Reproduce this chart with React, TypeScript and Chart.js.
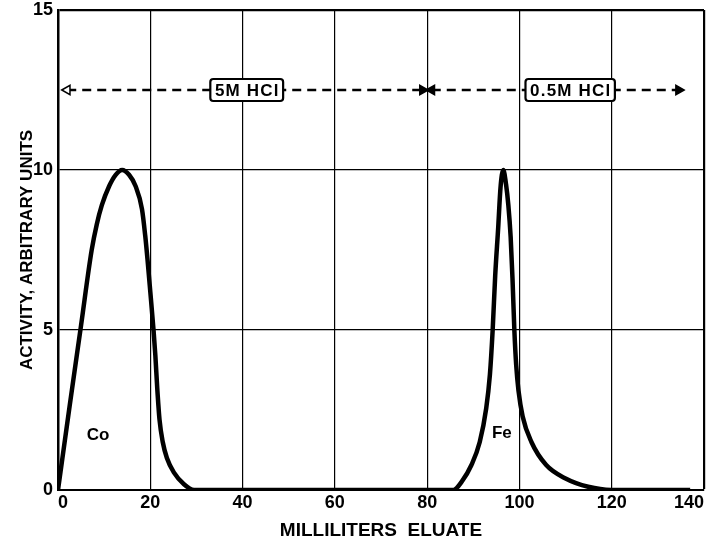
import React, { useEffect, useRef } from 'react';
import { Chart, registerables } from 'chart.js';

Chart.register(...registerables);

// Elution curve (Co then Fe)
const elutionMl = [
  0, 2.5, 5.0, 7.3, 8.4, 9.5, 11.1, 12.5, 13.9, 15.4, 16.8, 18.2, 18.9, 19.4, 20.0, 20.7, 21.1, 21.5, 22.0, 22.7, 23.6, 25.1, 27.3, 29.5,
  85.7, 87.5, 89.6, 91.4, 92.8, 93.6, 94.2, 94.75, 95.4, 95.9, 96.5, 97.1, 97.6, 98.1, 98.5, 98.9, 99.3, 99.8, 100.7, 102.6, 105.8, 110, 114.9, 119.9, 137,
];
const activity = [
  0, 2.6, 5.15, 7.5, 8.3, 8.9, 9.5, 9.85, 10, 9.85, 9.5, 8.78, 7.95, 7.2, 6.2, 5.0, 4.2, 3.2, 2.2, 1.5, 1.0, 0.55, 0.18, 0,
  0, 0.26, 0.78, 1.5, 2.55, 3.6, 5.0, 6.7, 8.2, 9.45, 10, 9.55, 8.9, 7.9, 6.6, 5.0, 3.9, 3.1, 2.3, 1.5, 0.78, 0.36, 0.1, 0, 0,
];

// Eluent ranges (dashed arrows)
const arrowLevel = 12.5;
const strongAcidRange = [2.0, 79.0];
const weakAcidRange = [81.0, 134.5];
const eluentNames = ['5M HCl', '0.5M HCl'];
const eluentCenters = [40.9, 111.0];

// Peak labels
const peakNames = ['Co', 'Fe'];
const peakX = [8.7, 96.2];
const peakY = [1.72, 1.78];

// Axes
const xMin = 0;
const xMax = 140;
const xStep = 20;
const yMin = 0;
const yMax = 15;
const yStep = 5;
const xTitle = 'MILLILITERS  ELUATE';
const yTitle = 'ACTIVITY, ARBITRARY UNITS';

const FONT = "'Liberation Sans', Arial, sans-serif";

const annotationPlugin = {
  id: 'eluentLabels',
  afterDatasetsDraw(chart: any) {
    const { ctx, scales } = chart;
    const x = scales.x;
    const y = scales.y;
    ctx.save();
    ctx.textAlign = 'center';
    ctx.textBaseline = 'middle';
    ctx.fillStyle = '#000';
    ctx.font = `bold 17px ${FONT}`;
    peakNames.forEach((t, i) => {
      ctx.fillText(t, x.getPixelForValue(peakX[i]), y.getPixelForValue(peakY[i]));
    });
    eluentNames.forEach((t, i) => {
      ctx.font = `bold 17px ${FONT}`;
      (ctx as any).letterSpacing = '1.2px';
      const w = ctx.measureText(t).width + 8;
      const h = 22;
      const cx = x.getPixelForValue(eluentCenters[i]);
      const cy = y.getPixelForValue(arrowLevel);
      ctx.beginPath();
      if ((ctx as any).roundRect) (ctx as any).roundRect(cx - w / 2, cy - h / 2, w, h, 3);
      else ctx.rect(cx - w / 2, cy - h / 2, w, h);
      ctx.fillStyle = '#fff';
      ctx.fill();
      ctx.lineWidth = 2.2;
      ctx.strokeStyle = '#000';
      ctx.stroke();
      ctx.fillStyle = '#000';
      ctx.fillText(t, cx + 0.6, cy + 1);
    });
    ctx.restore();
  },
};

export default function App() {
  const ref = useRef<HTMLCanvasElement | null>(null);

  useEffect(() => {
    if (!ref.current) return;
    Chart.defaults.font.family = FONT;
    Chart.defaults.color = '#000';

    const arrowDataset = (range: number[]) => ({
      data: range.map((v) => ({ x: v, y: arrowLevel })),
      borderColor: '#000',
      borderWidth: 2.5,
      borderDash: [9, 6],
      pointStyle: 'triangle',
      pointRotation: [-90, 90],
      pointRadius: 5.5,
      pointBorderWidth: 1.5,
      pointBorderColor: '#000',
      pointBackgroundColor: ['#fff', '#000'],
      fill: false,
    });

    const chart = new Chart(ref.current, {
      type: 'line',
      data: {
        datasets: [
          {
            data: elutionMl.map((v, i) => ({ x: v, y: activity[i] })),
            borderColor: '#000',
            borderWidth: 4.5,
            pointRadius: 0,
            cubicInterpolationMode: 'monotone',
            fill: false,
          } as any,
          arrowDataset(strongAcidRange) as any,
          { ...arrowDataset(weakAcidRange), pointBackgroundColor: ['#000', '#000'] } as any,
        ],
      },
      options: {
        responsive: false,
        animation: false,
        layout: { padding: { top: 10, right: 7, left: 0, bottom: 0 } },
        plugins: {
          legend: { display: false },
          tooltip: { enabled: false },
        },
        scales: {
          x: {
            type: 'linear',
            min: xMin,
            max: xMax,
            ticks: {
              stepSize: xStep,
              align: 'inner',
              padding: 2,
              color: '#000',
              font: { size: 18, weight: 'bold' },
            },
            grid: {
              color: '#000',
              lineWidth: (c: any) => (c.tick && c.tick.value === xMax ? 2.2 : 1.2),
              drawTicks: false,
            },
            border: { color: '#000', width: 2 },
            title: {
              display: true,
              text: xTitle,
              color: '#000',
              font: { size: 19, weight: 'bold' },
              padding: { top: 0, bottom: 4 },
            },
            afterFit: (s: any) => {
              s.height = 56;
              s.paddingLeft = 0;
              s.paddingRight = 0;
            },
          } as any,
          y: {
            type: 'linear',
            min: yMin,
            max: yMax,
            ticks: {
              stepSize: yStep,
              padding: 5,
              color: '#000',
              font: { size: 18, weight: 'bold' },
            },
            grid: {
              color: '#000',
              lineWidth: (c: any) => (c.tick && c.tick.value === yMax ? 2.2 : 1.2),
              drawTicks: false,
            },
            border: { color: '#000', width: 2.5 },
            title: {
              display: true,
              text: yTitle,
              color: '#000',
              font: { size: 17, weight: 'bold' },
              padding: { top: 17, bottom: 0 },
            },
            afterFit: (s: any) => {
              s.width = 58;
              s.paddingTop = 0;
              s.paddingBottom = 0;
            },
          } as any,
        },
      },
      plugins: [annotationPlugin],
    });
    return () => chart.destroy();
  }, []);

  return (
    <div style={{ position: 'absolute', left: 0, top: 0, width: 711, height: 546, background: '#fff' }}>
      <canvas ref={ref} width={711} height={546} style={{ display: 'block' }} />
    </div>
  );
}
